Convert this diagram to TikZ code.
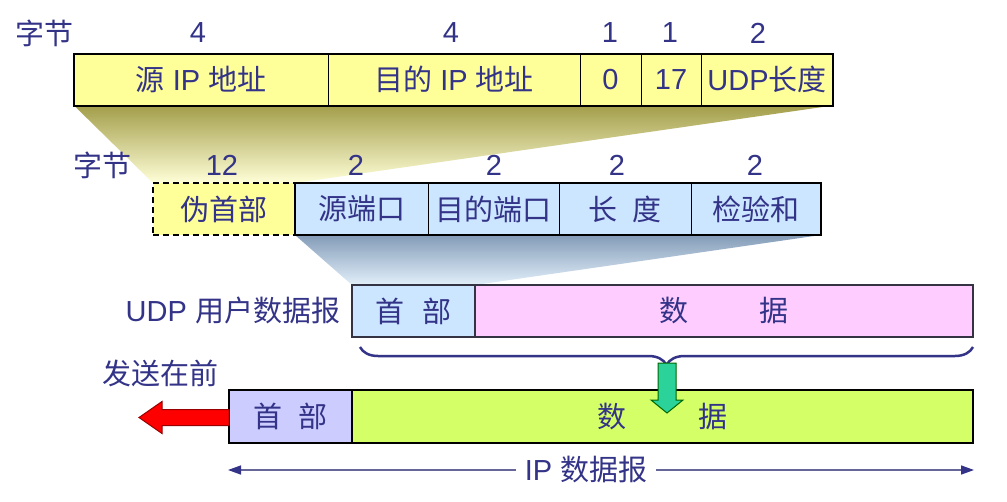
\documentclass[tikz,border=0pt]{standalone}
\usepackage{fontspec}
\setmainfont{Liberation Sans}
\newfontfamily\cjk{Noto Sans CJK SC}
\usetikzlibrary{arrows.meta,decorations.pathreplacing,calc}
\newcommand\zhx[1]{{\cjk #1}}
\definecolor{txt}{HTML}{333388}
\definecolor{yel}{HTML}{FFFF99}
\definecolor{blu}{HTML}{CCE6FF}
\definecolor{pnk}{HTML}{FFCCFF}
\definecolor{lav}{HTML}{CCCCFF}
\definecolor{grn}{HTML}{D5FF66}
\definecolor{teal2}{HTML}{2BD39B}
\definecolor{olivetop}{HTML}{A39E4A}
\definecolor{olivebot}{HTML}{FFFFD8}
\definecolor{bluetop}{HTML}{849CB8}
\definecolor{bluebot}{HTML}{E2EFFA}
\definecolor{dimc}{HTML}{666699}
\definecolor{udpline}{HTML}{333344}
\pgfdeclarelayer{back}
\pgfdeclarelayer{background}
\pgfsetlayers{back,background,main}
\begin{document}
\begin{tikzpicture}[x=1pt,y=-1pt,
  lbl/.style={text=txt, font=\fontsize{29}{32}\selectfont, inner sep=0pt, outer sep=0pt},
  cell/.style={draw=black, line width=1pt, minimum height=52pt, inner sep=0pt, outer sep=0pt, text=txt, font=\fontsize{29}{32}\selectfont},
  outerbox/.style={draw=black, line width=2pt},
  dimline/.style={draw=dimc, line width=1.5pt, -{Triangle[length=13pt,width=9pt,color=txt]}},
  bracestyle/.style={draw=txt, line width=2.5pt, decorate, decoration={brace, amplitude=18pt, mirror}},
  redarrow/.style={fill=red, draw=red!60!black, line width=1pt},
  greenarrow/.style={fill=teal2, draw=green!40!black, line width=1pt}]
\useasboundingbox (0,0) rectangle (1007,501);
% top row
\node[cell, fill=yel, minimum width=254pt] (srcip) at (201,79.5) {\zhx{源} IP \zhx{地址}};
\node[cell, fill=yel, minimum width=252pt] (dstip) at (454,79.5) {\zhx{目的} IP \zhx{地址}};
\node[cell, fill=yel, minimum width=61pt] (zero) at (610.5,79.5) {0};
\node[cell, fill=yel, minimum width=60pt] (proto) at (671,79.5) {17};
\node[cell, fill=yel, minimum width=132pt] (udplen) at (767,79.5) {UDP\zhx{长度}};
\draw[outerbox] (srcip.north west) rectangle (udplen.south east);
\node[lbl] (bytesA) at (45,33) {\zhx{字节}};
\node[lbl] (nA1) at (198,33) {4};
\node[lbl] (nA2) at (451,33) {4};
\node[lbl] (nA3) at (610,33) {1};
\node[lbl] (nA4) at (670,33) {1};
\node[lbl] (nA5) at (758,33) {2};
% middle row
\node[cell, fill=yel, dashed, dash pattern=on 6pt off 4pt, line width=1.8pt, minimum width=142pt] (pseudo) at (224,209) {\zhx{伪首部}};
\node[cell, fill=blu, minimum width=133pt] (sport) at (361.5,209) {\zhx{源端口}};
\node[cell, fill=blu, minimum width=131pt] (dport) at (493.5,209) {\zhx{目的端口}};
\node[cell, fill=blu, minimum width=132pt] (ulen) at (625,209) {\zhx{长\hspace{15pt}度}};
\node[cell, fill=blu, minimum width=130pt] (cksum) at (756,209) {\zhx{检验和}};
\draw[outerbox] (sport.north west) rectangle (cksum.south east);
\node[lbl] (bytesB) at (102,165) {\zhx{字节}};
\node[lbl] (nB1) at (222,165) {12};
\node[lbl] (nB2) at (356,165) {2};
\node[lbl] (nB3) at (494,165) {2};
\node[lbl] (nB4) at (617,165) {2};
\node[lbl] (nB5) at (755,165) {2};
% UDP datagram
\node[cell, fill=blu, draw=udpline, line width=1.5pt, minimum width=123pt] (udph) at (413.5,311) {\zhx{首\hspace{19pt}部}};
\node[cell, fill=pnk, draw=udpline, line width=1.5pt, minimum width=498pt] (udpd) at (724,311) {\zhx{数\hspace{72pt}据}};
\node[lbl, anchor=east] (udplbl) at (340,310) {UDP \zhx{用户数据报}};
% brace
\coordinate (brL) at (360,347);
\coordinate (brR) at (973,347);
\draw[bracestyle] (brL) -- (brR);
% IP datagram
\node[cell, fill=lav, line width=2pt, minimum width=123pt, minimum height=53pt] (iph) at (290.5,416.5) {\zhx{首\hspace{17pt}部}};
\node[cell, fill=grn, line width=2pt, minimum width=621pt, minimum height=53pt] (ipd) at (662.5,416.5) {\zhx{数\hspace{72pt}据}};
\node[lbl] (sendfirst) at (160,373) {\zhx{发送在前}};
% green arrow
\coordinate (gtop) at (667,363);
\draw[greenarrow] (gtop) ++(-9,0) -- ++(18,0) -- ++(0,37) -- ++(7,0) -- ++(-16,13) -- ++(-16,-13) -- ++(7,0) -- cycle;
% red arrow
\draw[redarrow] (iph.west) ++(0,-7) -- ++(-67,0) -- ++(0,-8) -- ++(-23,16) -- ++(23,16) -- ++(0,-8) -- ++(67,0) -- cycle;
% IP datagram dimension
\coordinate (ipL) at (228,470);
\coordinate (ipR) at (974,470);
\node[lbl, inner xsep=9pt] (iplbl) at (586,470) {IP \zhx{数据报}};
\draw[dimline] (iplbl.west) -- (ipL);
\draw[dimline] (iplbl.east) -- (ipR);
% shaded projections
\begin{pgfonlayer}{background}
\shade[top color=olivetop, bottom color=olivebot] (srcip.south west) -- (udplen.south east) -- (pseudo.north east) -- (pseudo.north west) -- cycle;
\shade[top color=bluetop, bottom color=bluebot] (sport.south west) -- (cksum.south east) -- (udph.north east) -- (udph.north west) -- cycle;
\end{pgfonlayer}
\begin{pgfonlayer}{back}
\fill[white] (0,0) rectangle (1007,501);
\end{pgfonlayer}
\end{tikzpicture}
\end{document}
